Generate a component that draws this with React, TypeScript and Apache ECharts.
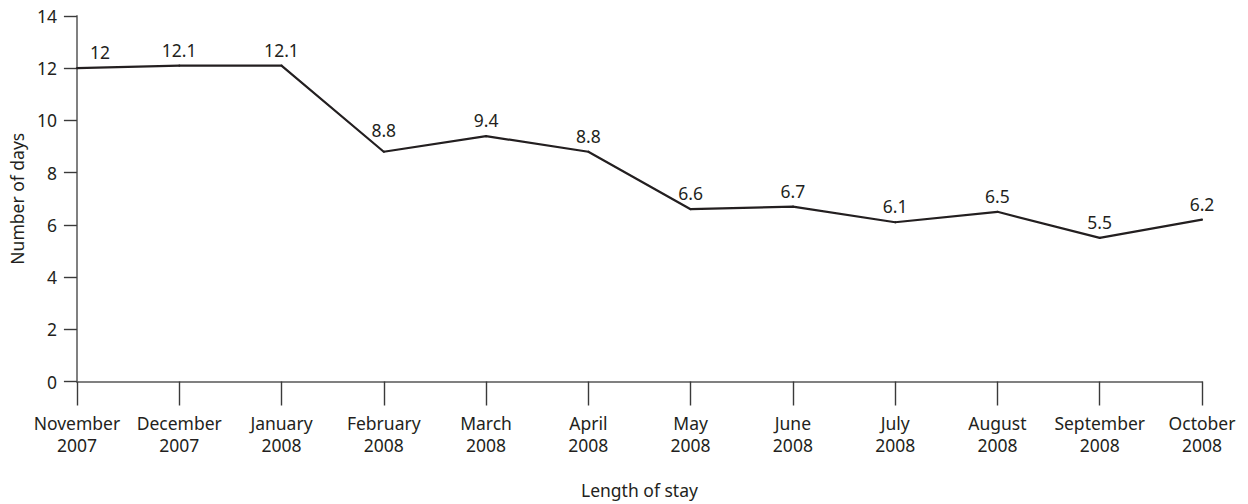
import React, { useEffect, useRef } from "react";
import * as echarts from "echarts";

// Monthly average length of stay
const months: string[] = [
  "November\n2007",
  "December\n2007",
  "January\n2008",
  "February\n2008",
  "March\n2008",
  "April\n2008",
  "May\n2008",
  "June\n2008",
  "July\n2008",
  "August\n2008",
  "September\n2008",
  "October\n2008",
];
const days: number[] = [12, 12.1, 12.1, 8.8, 9.4, 8.8, 6.6, 6.7, 6.1, 6.5, 5.5, 6.2];
const yTicks = { min: 0, max: 14, interval: 2 };

const FONT = "'Noto Sans', sans-serif";
const INK = "#231f20";
const FS = 17.5;

// Nudges for value labels that would otherwise sit on the axis or the line
const labelNudge: Record<number, [number, number]> = {
  0: [23, 0],
  3: [0, -6],
};

export default function App() {
  const ref = useRef<HTMLDivElement>(null);

  useEffect(() => {
    if (!ref.current) return;
    const chart = echarts.init(ref.current, undefined, { renderer: "svg" });
    chart.setOption({
      animation: false,
      textStyle: { fontFamily: FONT, color: INK },
      grid: { left: 76, right: 46, top: 16, bottom: 122.5, containLabel: false },
      xAxis: {
        type: "category",
        data: months,
        boundaryGap: false,
        name: "Length of stay",
        nameLocation: "middle",
        nameGap: 99,
        nameTextStyle: { fontFamily: FONT, fontSize: FS, color: INK },
        axisLine: { lineStyle: { color: "#808080", width: 2 } },
        axisTick: { show: true, length: 24, alignWithLabel: true, lineStyle: { color: "#3a3a3a", width: 1.4 } },
        axisLabel: { fontFamily: FONT, fontSize: FS, color: INK, margin: 30, lineHeight: 22, interval: 0 },
        splitLine: { show: false },
      },
      yAxis: {
        type: "value",
        min: yTicks.min,
        max: yTicks.max,
        interval: yTicks.interval,
        name: "Number of days",
        nameLocation: "middle",
        nameGap: 46,
        nameTextStyle: { fontFamily: FONT, fontSize: FS, color: INK },
        axisLine: { show: true, lineStyle: { color: "#808080", width: 2 } },
        axisTick: { show: true, length: 13, lineStyle: { color: "#3a3a3a", width: 1.4 } },
        axisLabel: { fontFamily: FONT, fontSize: FS, color: INK, margin: 20 },
        splitLine: { show: false },
      },
      series: [
        {
          type: "line",
          data: days.map((v, i) =>
            labelNudge[i] ? { value: v, label: { offset: labelNudge[i] } } : v
          ),
          symbol: "circle",
          symbolSize: 2,
          showSymbol: true,
          itemStyle: { color: INK },
          lineStyle: { color: INK, width: 2.2 },
          label: {
            show: true,
            position: "top",
            distance: 6,
            fontFamily: FONT,
            fontSize: FS,
            color: INK,
          },
        },
      ],
    });
    return () => chart.dispose();
  }, []);

  return (
    <div
      ref={ref}
      style={{ position: "fixed", left: 0, top: 0, width: 1248, height: 504, background: "#fff" }}
    />
  );
}
